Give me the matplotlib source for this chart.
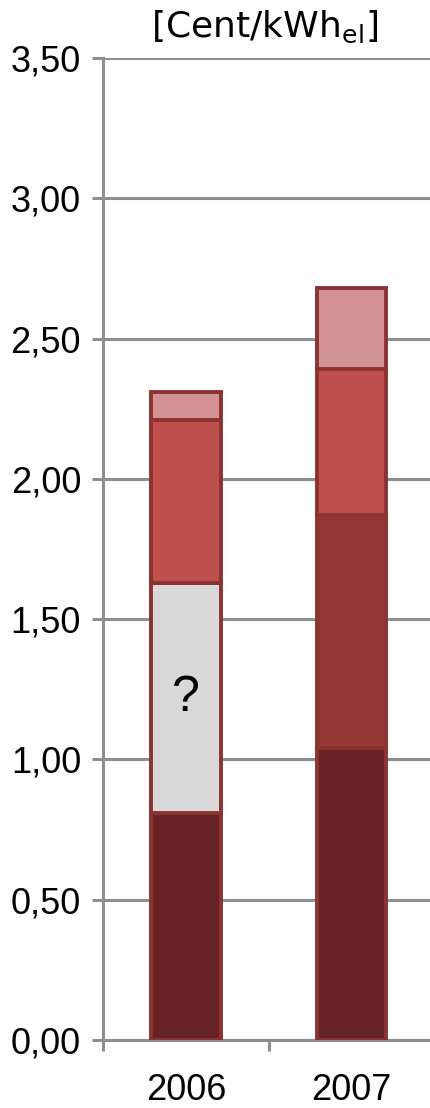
import matplotlib
matplotlib.use("Agg")
import matplotlib.pyplot as plt
import numpy as np

plt.rcParams['font.family'] = ['Liberation Sans', 'DejaVu Sans']

years = ["2006", "2007"]
seg1 = [0.81, 1.04]
seg2 = [0.82, 0.83]
seg3 = [0.58, 0.52]
seg4 = [0.10, 0.29]
seg2_labels = ["?", ""]
yticks = [0.0, 0.5, 1.0, 1.5, 2.0, 2.5, 3.0, 3.5]
ytick_labels = ["0,00", "0,50", "1,00", "1,50", "2,00", "2,50", "3,00", "3,50"]

c1 = "#652323"
c2 = ["#D9D9D9", "#953735"]
c3 = "#C0504D"
c4 = "#D39392"
edge = "#8C3331"
grid_c = "#8E8E8E"

fig = plt.figure(figsize=(4.31, 11.08), dpi=100)
ax = fig.add_axes([0.2397, 0.0614, 0.7684, 0.8863])

x = np.arange(len(years))
w = 0.42
lw = 2.8
b = np.zeros(len(years))
ax.bar(x, seg1, w, bottom=b, color=c1, edgecolor=edge, linewidth=lw, zorder=3)
b = b + np.array(seg1)
ax.bar(x, seg2, w, bottom=b, color=c2, edgecolor=edge, linewidth=lw, zorder=3)
for xi, bi, v, lab in zip(x, b, seg2, seg2_labels):
    if lab:
        ax.text(xi, bi + v / 2, lab, ha='center', va='center', fontsize=36, zorder=4)
b = b + np.array(seg2)
ax.bar(x, seg3, w, bottom=b, color=c3, edgecolor=edge, linewidth=lw, zorder=3)
b = b + np.array(seg3)
ax.bar(x, seg4, w, bottom=b, color=c4, edgecolor=edge, linewidth=lw, zorder=3)

ax.set_xlim(-0.5, 1.5)
ax.set_ylim(0, 3.5)
ax.set_yticks(yticks)
ax.set_yticklabels(ytick_labels, fontsize=26)
ax.set_xticks(x)
ax.set_xticklabels(years, fontsize=26)
ax.set_xticks([-0.5, 0.5, 1.5], minor=True)
ax.tick_params(axis='x', which='major', length=0, pad=24)
ax.tick_params(axis='x', which='minor', length=8, width=2.2, color=grid_c)
ax.tick_params(axis='y', which='major', length=8, width=2.2, color=grid_c, pad=8)

ax.yaxis.grid(True, color=grid_c, linewidth=2.2, zorder=0)
ax.set_axisbelow(True)
for s in ['top', 'right']:
    ax.spines[s].set_visible(False)
for s in ['left', 'bottom']:
    ax.spines[s].set_color(grid_c)
    ax.spines[s].set_linewidth(2.2)

fig.text(0.613, 0.976, "[Cent/kWh$_{\\mathregular{el}}$]", ha='center', va='center',
         fontsize=26, family=['DejaVu Sans'])

fig.savefig("out.png", dpi=100)
